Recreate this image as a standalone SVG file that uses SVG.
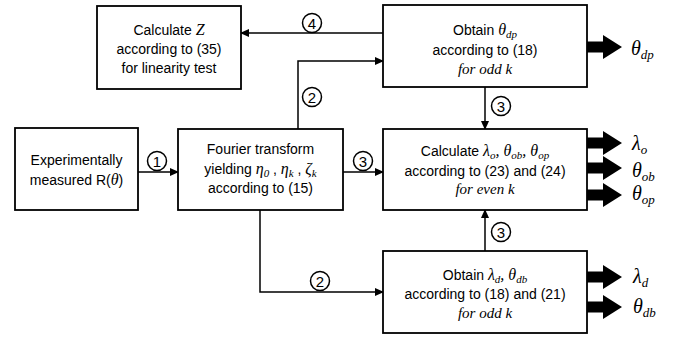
<svg xmlns="http://www.w3.org/2000/svg" width="677" height="341" viewBox="0 0 677 341">
<style>
.box{fill:#fff;stroke:#000;stroke-width:1.8}
.t{font-family:"Liberation Sans",Arial,sans-serif;font-size:14px;fill:#000;text-anchor:middle}
.m{font-family:"Liberation Serif","Times New Roman",serif;font-style:italic;font-size:16px}
.mi{font-family:"Liberation Serif","Times New Roman",serif;font-style:italic;font-size:15px}
.s{font-size:11px}
.con{fill:none;stroke:#000;stroke-width:1.5}
.circ{fill:#fff;stroke:#000;stroke-width:1.5}
.num{font-family:"Liberation Sans",Arial,sans-serif;font-size:15px;text-anchor:middle;fill:#000}
.out{font-family:"Liberation Serif","Times New Roman",serif;font-style:italic;font-size:20px;fill:#000}
.outs{font-size:13px}
</style>
<defs>
<marker id="ah" markerUnits="userSpaceOnUse" markerWidth="9" markerHeight="8" refX="8" refY="4" orient="auto">
<path d="M0,0 L9,4 L0,8 Z" fill="#000"/>
</marker>
<path id="thick" d="M0,-5.5 H16 V-12 L35,0 L16,12 V5.5 H0 Z" fill="#000"/>
</defs>

<g id="connectors">
<line class="con" x1="138" y1="172" x2="178" y2="172" marker-end="url(#ah)"/>
<line class="con" x1="343" y1="172" x2="383" y2="172" marker-end="url(#ah)"/>
<path class="con" d="M298,129 V61 H383" marker-end="url(#ah)"/>
<line class="con" x1="383" y1="33" x2="241" y2="33" marker-end="url(#ah)"/>
<line class="con" x1="485" y1="87" x2="485" y2="129" marker-end="url(#ah)"/>
<line class="con" x1="485" y1="251" x2="485" y2="210" marker-end="url(#ah)"/>
<path class="con" d="M260,210 V292 H383" marker-end="url(#ah)"/>
<circle class="circ" cx="157" cy="161" r="9.5"/><text class="num" x="157" y="166.5">1</text>
<circle class="circ" cx="363" cy="161" r="9.5"/><text class="num" x="363" y="166.5">3</text>
<circle class="circ" cx="312" cy="23" r="9.5"/><text class="num" x="312" y="28.5">4</text>
<circle class="circ" cx="312" cy="97" r="9.5"/><text class="num" x="312" y="102.5">2</text>
<circle class="circ" cx="501" cy="106" r="9.5"/><text class="num" x="501" y="111.5">3</text>
<circle class="circ" cx="501" cy="232" r="9.5"/><text class="num" x="501" y="237.5">3</text>
<circle class="circ" cx="320" cy="281" r="9.5"/><text class="num" x="320" y="286.5">2</text>
</g>

<g id="calcZ">
<rect class="box" x="97" y="6" width="144" height="83"/>
<text class="t" x="169" y="35">Calculate <tspan class="m">Z</tspan></text>
<text class="t" x="169" y="54">according to (35)</text>
<text class="t" x="169" y="73">for linearity test</text>
</g>

<g id="obtainThetaDp">
<rect class="box" x="383" y="5" width="204" height="82"/>
<text class="t" x="485" y="35">Obtain <tspan class="m">θ<tspan class="s" dy="3">dp</tspan></tspan></text>
<text class="t" x="485" y="55">according to (18)</text>
<text class="t mi" x="485" y="74">for odd k</text>
<use href="#thick" x="587" y="47"/>
<text class="out" x="631" y="55">θ<tspan class="outs" dy="4">dp</tspan></text>
</g>

<g id="experimental">
<rect class="box" x="15" y="128" width="123" height="82"/>
<text class="t" x="76.5" y="165">Experimentally</text>
<text class="t" x="76.5" y="185">measured R(<tspan class="m">θ</tspan>)</text>
</g>

<g id="fourier">
<rect class="box" x="178" y="129" width="165" height="81"/>
<text class="t" x="260.5" y="154">Fourier transform</text>
<text class="t" x="260.5" y="174">yielding <tspan class="m">η<tspan class="s" dy="3">0</tspan></tspan><tspan dy="-3"> , </tspan><tspan class="m">η<tspan class="s" dy="3">k</tspan></tspan><tspan dy="-3"> , </tspan><tspan class="m">ζ<tspan class="s" dy="3">k</tspan></tspan></text>
<text class="t" x="260.5" y="193">according to (15)</text>
</g>

<g id="calcLambdaO">
<rect class="box" x="383" y="129" width="204" height="81"/>
<text class="t" x="485" y="156">Calculate <tspan class="m">λ<tspan class="s" dy="3">o</tspan><tspan dy="-3">, θ</tspan><tspan class="s" dy="3">ob</tspan><tspan dy="-3">, θ</tspan><tspan class="s" dy="3">op</tspan></tspan></text>
<text class="t" x="485" y="176">according to (23) and (24)</text>
<text class="t mi" x="485" y="194">for even k</text>
<use href="#thick" x="587" y="143"/>
<use href="#thick" x="587" y="168"/>
<use href="#thick" x="587" y="195"/>
<text class="out" x="632" y="150">λ<tspan class="outs" dy="4">o</tspan></text>
<text class="out" x="632" y="177">θ<tspan class="outs" dy="4">ob</tspan></text>
<text class="out" x="632" y="200">θ<tspan class="outs" dy="4">op</tspan></text>
</g>

<g id="obtainLambdaD">
<rect class="box" x="383" y="251" width="204" height="82"/>
<text class="t" x="485" y="280">Obtain <tspan class="m">λ<tspan class="s" dy="3">d</tspan><tspan dy="-3">, θ</tspan><tspan class="s" dy="3">db</tspan></tspan></text>
<text class="t" x="485" y="299">according to (18) and (21)</text>
<text class="t mi" x="485" y="318">for odd k</text>
<use href="#thick" x="587" y="277"/>
<use href="#thick" x="587" y="307"/>
<text class="out" x="633" y="283">λ<tspan class="outs" dy="4">d</tspan></text>
<text class="out" x="633" y="313">θ<tspan class="outs" dy="4">db</tspan></text>
</g>
</svg>
